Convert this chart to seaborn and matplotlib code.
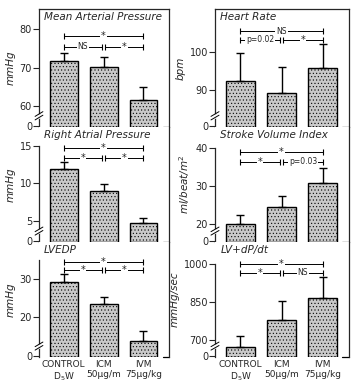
import matplotlib
matplotlib.use("Agg")
import matplotlib.pyplot as plt
import seaborn as sns

# group labels on the x axis
groups = ["CONTROL\nD$_5$W", "ICM\n50μg/m", "IVM\n75μg/kg"]

# mean values and upper error (SEM)
map_mean = [71.7, 70.2, 61.7]
map_err = [2.2, 2.6, 3.2]
hr_mean = [92.4, 89.1, 95.8]
hr_err = [7.3, 6.9, 6.3]
rap_mean = [11.85, 8.96, 4.65]
rap_err = [0.95, 0.9, 0.65]
svi_mean = [20.0, 24.4, 30.9]
svi_err = [2.4, 3.0, 3.8]
lvedp_mean = [29.3, 23.3, 13.6]
lvedp_err = [2.0, 1.8, 2.7]
dpdt_mean = [671, 779, 867]
dpdt_err = [45, 76, 83]

# significance: (control vs IVM, control vs ICM, ICM vs IVM)
map_sig = ["*", "NS", "*"]
hr_sig = ["NS", "p=0.02", "*"]
rap_sig = ["*", "*", "*"]
svi_sig = ["*", "*", "p=0.03"]
lvedp_sig = ["*", "*", "*"]
dpdt_sig = ["*", "*", "NS"]

# y axis ticks (the bottom one is the broken-axis "0")
map_ticks = [60, 70, 80]
hr_ticks = [90, 100]
rap_ticks = [5, 10, 15]
svi_ticks = [20, 30, 40]
lvedp_ticks = [20, 30]
dpdt_ticks = [700, 850, 1000]

sns.set_style("ticks")
plt.rcParams["font.family"] = ["DejaVu Sans"]
plt.rcParams["hatch.linewidth"] = 0.4

fig = plt.figure(figsize=(3.63, 3.84), dpi=100)

W, H = 363, 384
col_x = [(39, 130), (215, 134)]
row_y = [(9, 127), (127, 242), (242, 357)]

panels = [
    # col, row, title, ylabel, mean, err, sig, ylim, ticks, spine_top, sig levels
    (0, 0, "Mean Arterial Pressure", "mmHg", map_mean, map_err, map_sig,
     (54.6, 85.2), map_ticks, None, (0.77, 0.68)),
    (1, 0, "Heart Rate", "bpm", hr_mean, hr_err, hr_sig,
     (80.2, 111.5), hr_ticks, None, (0.81, 0.74)),
    (0, 1, "Right Atrial Pressure", "mmHg", rap_mean, rap_err, rap_sig,
     (2.16, 17.5), rap_ticks, 15, (0.815, 0.728)),
    (1, 1, "Stroke Volume Index", "ml/beat/m$^2$", svi_mean, svi_err, svi_sig,
     (15.2, 45.6), svi_ticks, 40, (0.785, 0.698)),
    (0, 2, "LVEDP", "mmHg", lvedp_mean, lvedp_err, lvedp_sig,
     (9.3, 39.8), lvedp_ticks, 35, (0.83, 0.757)),
    (1, 2, "LV+dP/dt", "mmHg/sec", dpdt_mean, dpdt_err, dpdt_sig,
     (632, 1087), dpdt_ticks, 1000, (0.81, 0.733)),
]


def draw_sig(ax, sig, levels):
    tr = ax.get_xaxis_transform()
    segs = [(0, 2, levels[0], sig[0]),
            (0, 0.96, levels[1], sig[1]),
            (1.04, 2, levels[1], sig[2])]
    for x0, x1, y, lab in segs:
        ax.plot([x0, x1], [y, y], color="k", lw=0.7, transform=tr,
                marker="|", markersize=4, markeredgewidth=0.8)
        ax.text((x0 + x1) / 2, y, lab, transform=tr, ha="center",
                va="center", fontsize=5.5 if lab != "*" else 7,
                bbox=dict(facecolor="white", edgecolor="none", pad=0.6))


for col, row, title, ylab, mean, err, sig, ylim, ticks, top, levels in panels:
    x0, w = col_x[col]
    t, b = row_y[row]
    ax = fig.add_axes([x0 / W, 1 - b / H, w / W, (b - t) / H])

    sns.barplot(x=groups, y=mean, ax=ax, color="#c9c9c9", edgecolor="k",
                linewidth=1.0, width=0.7, errorbar=None, zorder=2)
    for p in ax.patches:
        p.set_hatch(".....")
        h = p.get_height()
        p.set_y(ylim[0])
        p.set_height(h - ylim[0])
    ax.errorbar(range(len(mean)), mean, yerr=[[0] * len(err), err],
                fmt="none", ecolor="k", elinewidth=1.0, capsize=3,
                capthick=1.0, zorder=3)

    ax.set_xlim(-0.62, 2.64)
    ax.set_ylim(*ylim)
    ax.set_yticks([ylim[0] + (ylim[1] - ylim[0]) * 0.01] + ticks)
    ax.set_yticklabels(["0"] + [str(v) for v in ticks], fontsize=7)
    ax.tick_params(axis="y", direction="out", length=4, width=0.8, pad=1)
    ax.tick_params(axis="x", length=0, labelsize=6.5, pad=2)
    if row < 2:
        ax.set_xticklabels([])

    ax.spines["bottom"].set_visible(False)
    ax.spines["top"].set_visible(row == 0)
    for s in ["left", "right", "top"]:
        ax.spines[s].set_linewidth(0.9)
    if top is not None:
        ax.spines["left"].set_bounds(ylim[0], top)

    # axis break marks
    for yb in (0.08, 0.11):
        ax.plot([-0.03, 0.03], [yb - 0.02, yb + 0.02], color="k", lw=0.7,
                transform=ax.transAxes, clip_on=False, zorder=5)
    ax.plot([0, 0], [0.085, 0.105], color="white", lw=2,
            transform=ax.transAxes, clip_on=False, zorder=4)
    # little closing tick on the right frame
    ax.plot([0.95, 1.0], [0.003, 0.003], color="k", lw=0.9,
            transform=ax.transAxes, clip_on=False)

    ax.text(0.04, 0.975, title, transform=ax.transAxes, ha="left",
            va="top", fontsize=7.5, style="italic")
    ax.set_ylabel(ylab, fontsize=7.5, style="italic", labelpad=3)

    draw_sig(ax, sig, levels)

fig.savefig("out.png", dpi=100)
